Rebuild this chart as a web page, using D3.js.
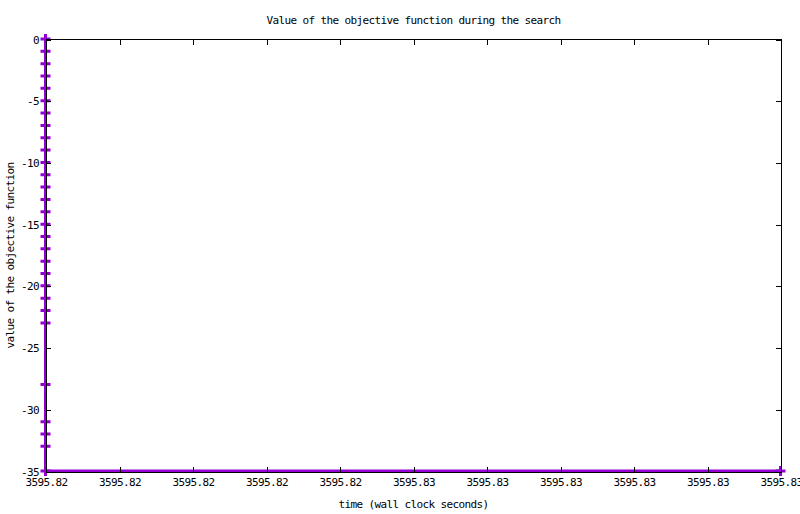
<!DOCTYPE html>
<html>
  <head>
    <meta charset="utf-8">
    <script type="text/javascript" src="https://d3js.org/d3.v7.min.js"></script>
    <style>
      body { margin:0; background:#fff; }
      text { font-family:"DejaVu Sans Mono","Liberation Mono",monospace; font-size:11px; letter-spacing:-0.62px; fill:#000; }
    </style>
  </head>
  <body>
  </body>
  <script>

// search trace: wall clock time and objective value
var times  = [3595.82,3595.82,3595.82,3595.82,3595.82,3595.82,3595.82,3595.82,3595.82,3595.82,
              3595.82,3595.82,3595.82,3595.82,3595.82,3595.82,3595.82,3595.82,3595.82,3595.82,
              3595.82,3595.82,3595.82,3595.82,3595.82,3595.82,3595.82,3595.82,3595.82,3595.83];
var values = [0,-1,-2,-3,-4,-5,-6,-7,-8,-9,
              -10,-11,-12,-13,-14,-15,-16,-17,-18,-19,
              -20,-21,-22,-23,-28,-31,-32,-33,-35,-35];

var xTicks = [3595.820,3595.821,3595.822,3595.823,3595.824,3595.825,3595.826,3595.827,3595.828,3595.829,3595.830];
var xTickLabels = ["3595.82","3595.82","3595.82","3595.82","3595.82","3595.83","3595.83","3595.83","3595.83","3595.83","3595.83"];
var yTicks = [0,-5,-10,-15,-20,-25,-30,-35];

var W=800, H=514;
var plotL=46, plotR=781, plotT=39.5, plotB=471.5;

var svg = d3.select("body").append("svg").attr("width", W).attr("height", H);

var x = d3.scaleLinear().domain([3595.82, 3595.83]).range([plotL, plotR]);
var y = d3.scaleLinear().domain([-35, 0]).range([plotB, plotT]);

var pts = times.map(function(t,i){ return {t:t, v:values[i]}; });

// line
var line = d3.line().x(function(d){ return x(d.t)-0.5; }).y(function(d){ return y(d.v)-0.5; });
svg.append("path").datum(pts)
   .attr("d", line)
   .attr("fill","none").attr("stroke","#9400d3").attr("stroke-width",3);

// plus markers
svg.selectAll("path.pt").data(pts).enter().append("path")
   .attr("class","pt")
   .attr("d", function(d){
      var cx=x(d.t)-0.5, cy=y(d.v)-0.5;
      return "M"+(cx-5)+","+cy+"H"+(cx+5)+"M"+cx+","+(cy-5)+"V"+(cy+5);
   })
   .attr("fill","none").attr("stroke","#9400d3").attr("stroke-width",3);

// axes with inward ticks on all sides
function styleAxis(g){
  g.select(".domain").remove();
  g.selectAll(".tick line").attr("stroke","#000").attr("shape-rendering","crispEdges");
  g.selectAll(".tick text").attr("font-family",null).attr("font-size",null);
}

svg.append("g").attr("transform","translate(0,"+plotB+")")
   .call(d3.axisBottom(x).tickValues(xTicks).tickSize(-5).tickPadding(7)
         .tickFormat(function(d,i){ return xTickLabels[i]; }))
   .call(styleAxis);
svg.append("g").attr("transform","translate(0,"+plotT+")")
   .call(d3.axisTop(x).tickValues(xTicks).tickSize(-5).tickFormat(""))
   .call(styleAxis);
svg.append("g").attr("transform","translate("+plotL+",0)")
   .call(d3.axisLeft(y).tickValues(yTicks).tickSize(-5).tickPadding(7)
         .tickFormat(function(d){ return String(d); }))
   .call(styleAxis);
svg.append("g").attr("transform","translate("+plotR+",0)")
   .call(d3.axisRight(y).tickValues(yTicks).tickSize(-5).tickFormat(""))
   .call(styleAxis);

// frame
svg.append("rect")
   .attr("x", plotL+0.5).attr("y", plotT)
   .attr("width", plotR-plotL).attr("height", plotB-plotT+1)
   .attr("fill","none").attr("stroke","#000").attr("stroke-width",1);

// titles
svg.append("text").attr("x", (plotL+plotR)/2).attr("y", 24)
   .attr("text-anchor","middle").text("Value of the objective function during the search");
svg.append("text").attr("x", (plotL+plotR)/2).attr("y", 508)
   .attr("text-anchor","middle").text("time (wall clock seconds)");
svg.append("text").attr("transform","translate(14,"+((plotT+plotB)/2)+") rotate(-90)")
   .attr("text-anchor","middle").text("value of the objective function");

  </script>
</html>
